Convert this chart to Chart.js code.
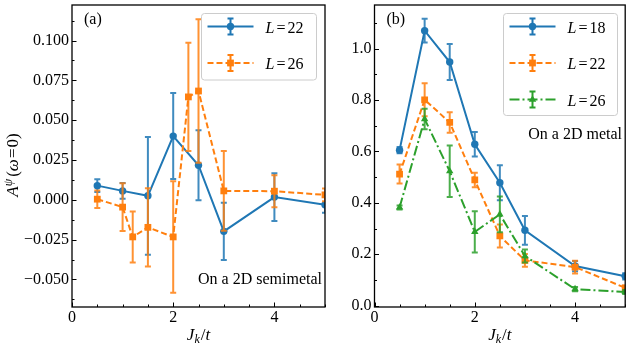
<!DOCTYPE html>
<html><head><meta charset="utf-8">
<script src="https://cdn.jsdelivr.net/npm/chart.js@4/dist/chart.umd.min.js"></script>
<style>
html,body{margin:0;padding:0;background:#fff;}
#wrap{position:relative;width:630px;height:346px;overflow:hidden;}
canvas{position:absolute;top:0;}
</style></head><body>
<div id="wrap">
<canvas id="ca" width="330" height="346" style="left:0px"></canvas>
<canvas id="cb" width="300" height="346" style="left:330px"></canvas>
</div>
<script>
// ---------- data: panel (a) semimetal ----------
const jkA22 = [0.5, 1, 1.5, 2, 2.5, 3, 4, 5];
const valA22 = [0.0089, 0.0056, 0.0025, 0.040, 0.0217, -0.0198, 0.0017, -0.0031];
const errA22 = [0.004, 0.005, 0.037, 0.027, 0.022, 0.018, 0.015, 0.005];
const jkA26 = [0.5, 1, 1.2, 1.5, 2, 2.3, 2.5, 3, 4, 5];
const valA26 = [0.0004, -0.0046, -0.0233, -0.0173, -0.0233, 0.0646, 0.0683, 0.0056, 0.0054, 0.0031];
const errA26 = [0.0055, 0.015, 0.016, 0.0245, 0.035, 0.034, 0.045, 0.025, 0.010, 0.004];
// ---------- data: panel (b) metal ----------
const jkB = [0.5, 1, 1.5, 2, 2.5, 3, 4, 5];
const valB18 = [0.605, 1.070, 0.948, 0.628, 0.478, 0.293, 0.154, 0.114];
const errB18 = [0.012, 0.046, 0.070, 0.048, 0.068, 0.056, 0.020, 0.012];
const valB22 = [0.512, 0.801, 0.713, 0.489, 0.271, 0.176, 0.150, 0.069];
const errB22 = [0.037, 0.064, 0.040, 0.028, 0.045, 0.025, 0.025, 0.008];
const valB26 = [0.382, 0.726, 0.523, 0.287, 0.355, 0.193, 0.064, 0.053];
const errB26 = [0.008, 0.040, 0.100, 0.080, 0.070, 0.025, 0.008, 0.008];
// ---------- labels / ticks ----------
const labelsA = ['22', '26'];
const labelsB = ['18', '22', '26'];
const xMajorTicks = [0, 2, 4];
const yTicksA = [-0.05, -0.025, 0, 0.025, 0.05, 0.075, 0.1];
const yTicksB = [0, 0.2, 0.4, 0.6, 0.8, 1.0];
const panelTags = ['(a)', '(b)'];
const panelNotes = ['On a 2D semimetal', 'On a 2D metal'];

const C_BLUE = '#1f77b4', C_ORANGE = '#ff7f0e', C_GREEN = '#2ca02c';
const SERIF = '"Liberation Serif", "DejaVu Serif", serif';
const DASH = [6, 3];
const DASHDOT = [10, 3, 2, 3];
const LW = 2;

function drawMarker(ctx, style, x, y, r) {
  ctx.beginPath();
  if (style === 'circle') ctx.arc(x, y, r, 0, Math.PI * 2);
  else if (style === 'rect') { const s = r * Math.SQRT1_2; ctx.rect(x - s, y - s, 2 * s, 2 * s); }
  else if (style === 'triangle') {
    for (let k = 0; k < 3; k++) {
      const a = k * 2 * Math.PI / 3;
      const px = x + Math.sin(a) * r, py = y - Math.cos(a) * r;
      if (k === 0) ctx.moveTo(px, py); else ctx.lineTo(px, py);
    }
    ctx.closePath();
  }
  ctx.fill();
}

function drawRuns(ctx, runs, x, y, align) {
  let w = 0;
  runs.forEach(r => { ctx.font = (r.it ? 'italic ' : '') + r.s + 'px ' + SERIF; r.w = ctx.measureText(r.t).width; w += r.w + (r.gap || 0); });
  let cx = align === 'center' ? x - w / 2 : (align === 'right' ? x - w : x);
  ctx.textAlign = 'left';
  runs.forEach(r => {
    ctx.font = (r.it ? 'italic ' : '') + r.s + 'px ' + SERIF;
    ctx.fillText(r.t, cx, y + (r.dy || 0));
    cx += r.w + (r.gap || 0);
  });
}

function makePanel(id, cfg) {
  const decor = {
    id: 'decor' + id,
    beforeDatasetDraw(chart, args) {
      const ds = chart.data.datasets[args.index];
      const xs = chart.scales.x, ys = chart.scales.y, a = chart.chartArea;
      const ctx = chart.ctx;
      ctx.save();
      ctx.beginPath(); ctx.rect(a.left, a.top, a.right - a.left, a.bottom - a.top); ctx.clip();
      ctx.strokeStyle = ds.borderColor; ctx.lineWidth = LW; ctx.setLineDash([]);
      ctx.globalAlpha = 0.85;
      ds.data.forEach((p, i) => {
        const e = ds.errs[i];
        const px = xs.getPixelForValue(p.x);
        const y1 = ys.getPixelForValue(p.y + e), y2 = ys.getPixelForValue(p.y - e);
        ctx.beginPath();
        ctx.moveTo(px, y1); ctx.lineTo(px, y2);
        ctx.moveTo(px - 3, y1); ctx.lineTo(px + 3, y1);
        ctx.moveTo(px - 3, y2); ctx.lineTo(px + 3, y2);
        ctx.stroke();
      });
      ctx.restore();
    },
    afterDraw(chart) {
      const ctx = chart.ctx, a = chart.chartArea;
      const xs = chart.scales.x, ys = chart.scales.y;
      ctx.save();
      ctx.fillStyle = '#000'; ctx.strokeStyle = '#000'; ctx.setLineDash([]);
      ctx.lineWidth = 1;
      for (let v = 0; v <= 5.0001; v += 0.5) {
        const px = Math.round(xs.getPixelForValue(v)) + 0.5;
        const major = xMajorTicks.some(t => Math.abs(t - v) < 1e-6);
        const L = major ? 4.5 : 2.5;
        ctx.beginPath(); ctx.moveTo(px, a.bottom); ctx.lineTo(px, a.bottom - L); ctx.stroke();
      }
      const step = cfg.yTicks[1] - cfg.yTicks[0];
      const startK = Math.ceil(cfg.yMin / (step / 2) - 1e-6), endK = Math.floor(cfg.yMax / (step / 2) + 1e-6);
      for (let k = startK; k <= endK; k++) {
        const v = k * step / 2;
        const py = Math.round(ys.getPixelForValue(v)) + 0.5;
        const L = (k % 2 === 0) ? 4.5 : 2.5;
        ctx.beginPath(); ctx.moveTo(a.left, py); ctx.lineTo(a.left + L, py); ctx.stroke();
      }
      ctx.lineWidth = 1.3;
      ctx.strokeRect(a.left, a.top, a.right - a.left, a.bottom - a.top);
      // legend
      const lg = cfg.legend;
      ctx.fillStyle = 'rgba(255,255,255,0.8)'; ctx.strokeStyle = '#cccccc'; ctx.lineWidth = 1;
      ctx.beginPath();
      if (ctx.roundRect) ctx.roundRect(lg.x, lg.y, lg.w, lg.h, 3); else ctx.rect(lg.x, lg.y, lg.w, lg.h);
      ctx.fill(); ctx.stroke();
      chart.data.datasets.forEach((ds, i) => {
        const yy = lg.y + 13 + i * 36.5;
        const x0 = lg.x + 6, x1 = lg.x + 52, xc = (x0 + x1) / 2;
        ctx.strokeStyle = ds.borderColor; ctx.fillStyle = ds.borderColor; ctx.lineWidth = LW;
        ctx.setLineDash(ds.borderDash || []);
        ctx.beginPath(); ctx.moveTo(x0, yy); ctx.lineTo(x1, yy); ctx.stroke();
        ctx.setLineDash([]);
        ctx.beginPath();
        ctx.moveTo(xc, yy - 8); ctx.lineTo(xc, yy + 8);
        ctx.moveTo(xc - 3, yy - 8); ctx.lineTo(xc + 3, yy - 8);
        ctx.moveTo(xc - 3, yy + 8); ctx.lineTo(xc + 3, yy + 8);
        ctx.stroke();
        drawMarker(ctx, ds.pointStyle, xc, yy, ds.pointRadius);
        ctx.fillStyle = '#000'; ctx.textBaseline = 'alphabetic';
        drawRuns(ctx, [{t: 'L', it: true, s: 16, gap: 2}, {t: '=', s: 16, gap: 2}, {t: cfg.labels[i], s: 16}], lg.x + 64, yy + 6, 'left');
      });
      ctx.fillStyle = '#000'; ctx.textBaseline = 'alphabetic';
      ctx.font = '16px ' + SERIF; ctx.textAlign = 'left';
      ctx.fillText(cfg.tag, a.left + 12, 24);
      ctx.textAlign = 'right';
      ctx.fillText(cfg.note, cfg.noteX, cfg.noteY);
      drawRuns(ctx, [{t: 'J', it: true, s: 17}, {t: 'k', it: true, s: 12, dy: 3, gap: 1}, {t: '/', s: 17}, {t: 't', it: true, s: 17}], (a.left + a.right) / 2, 340, 'center');
      if (cfg.yTitle) {
        ctx.save();
        ctx.translate(17.5, (a.top + a.bottom) / 2 + 9);
        ctx.rotate(-Math.PI / 2);
        drawRuns(ctx, [{t: 'A', it: true, s: 17}, {t: 'ψ', it: true, s: 12, dy: -6, gap: 2}, {t: '(', s: 17}, {t: 'ω', it: true, s: 17, gap: 1}, {t: '=', s: 17, gap: 1}, {t: '0)', s: 17}], 0, 0, 'center');
        ctx.restore();
      }
      ctx.restore();
    }
  };
  const n = cfg.series.length;
  return new Chart(document.getElementById(id), {
    type: 'line',
    data: {
      datasets: cfg.series.map((s, i) => ({
        label: 'L=' + cfg.labels[i],
        data: s.x.map((x, k) => ({x: x, y: s.y[k]})),
        errs: s.err,
        borderColor: s.color, backgroundColor: s.color,
        borderWidth: LW, borderDash: s.dash, tension: 0, fill: false,
        pointStyle: s.marker, pointRadius: s.r, pointBorderWidth: 0,
        pointBackgroundColor: s.color, clip: 0, order: n - i
      }))
    },
    options: {
      responsive: false, animation: false, events: [], devicePixelRatio: 1,
      layout: {padding: cfg.padding},
      plugins: {legend: {display: false}, tooltip: {enabled: false}},
      scales: {
        x: {
          type: 'linear', min: 0, max: 5,
          afterBuildTicks: s => { s.ticks = xMajorTicks.map(v => ({value: v})); },
          ticks: {font: {family: SERIF, size: 16}, color: '#000', padding: 1, maxRotation: 0, autoSkip: false, callback: v => String(v)},
          grid: {display: false, drawTicks: false}, border: {display: false},
          afterFit: s => { s.height = 39; s.paddingLeft = 0; s.paddingRight = 0; }
        },
        y: {
          type: 'linear', min: cfg.yMin, max: cfg.yMax,
          afterBuildTicks: s => { s.ticks = cfg.yTicks.map(v => ({value: v})); },
          ticks: {font: {family: SERIF, size: 16}, color: '#000', padding: 3, autoSkip: false, callback: cfg.fmt},
          grid: {display: false, drawTicks: false}, border: {display: false},
          afterFit: s => { s.width = cfg.yWidth; s.paddingTop = 0; s.paddingBottom = 0; }
        }
      }
    },
    plugins: [decor]
  });
}

makePanel('ca', {
  series: [
    {x: jkA22, y: valA22, err: errA22, color: C_BLUE, dash: [], marker: 'circle', r: 3.7},
    {x: jkA26, y: valA26, err: errA26, color: C_ORANGE, dash: DASH, marker: 'rect', r: 4.8}
  ],
  labels: labelsA, yTicks: yTicksA, yMin: -0.0673, yMax: 0.1223,
  fmt: v => v.toFixed(3).replace('-', '\u2212'),
  padding: {left: 0, top: 5, right: 5, bottom: 0}, yWidth: 72,
  legend: {x: 201.5, y: 13.5, w: 115, h: 66.5},
  tag: panelTags[0], note: panelNotes[0], noteX: 322, noteY: 284, yTitle: true
});
makePanel('cb', {
  series: [
    {x: jkB, y: valB18, err: errB18, color: C_BLUE, dash: [], marker: 'circle', r: 3.7},
    {x: jkB, y: valB22, err: errB22, color: C_ORANGE, dash: DASH, marker: 'rect', r: 4.8},
    {x: jkB, y: valB26, err: errB26, color: C_GREEN, dash: DASHDOT, marker: 'triangle', r: 4.3}
  ],
  labels: labelsB, yTicks: yTicksB, yMin: -0.0055, yMax: 1.17,
  fmt: v => v.toFixed(1),
  padding: {left: 0, top: 5, right: 3.5, bottom: 0}, yWidth: 44.5,
  legend: {x: 173.5, y: 13.5, w: 114, h: 102},
  tag: panelTags[1], note: panelNotes[1], noteX: 292, noteY: 139, yTitle: false
});
</script>
</body></html>
